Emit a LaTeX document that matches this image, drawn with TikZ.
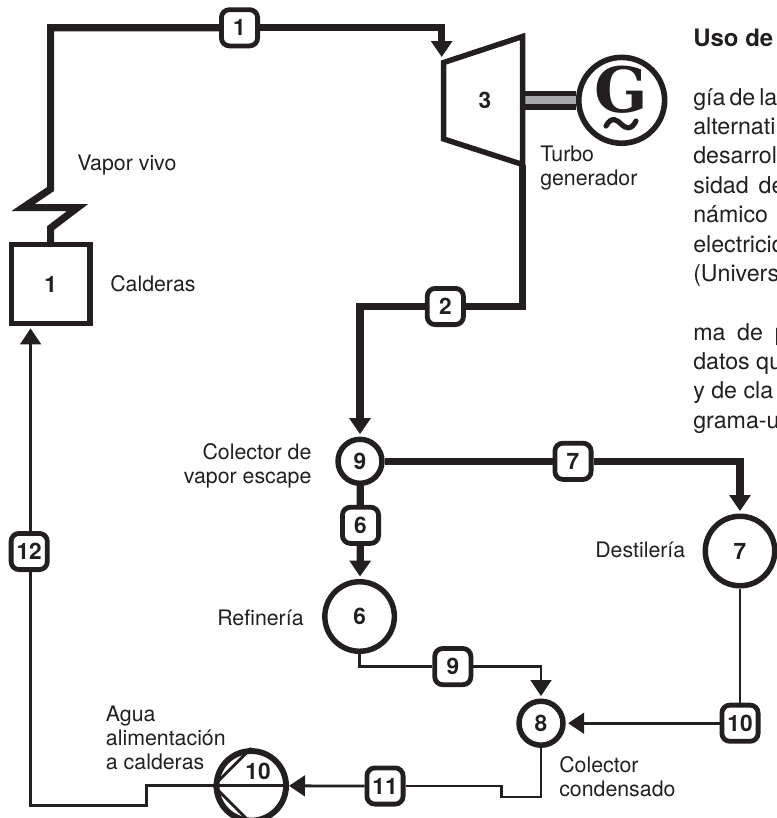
\documentclass[tikz,border=0pt]{standalone}
\usepackage{fontspec}
\setmainfont{TeX Gyre Heros}
\newfontfamily\genfont{DejaVu Serif}
\usetikzlibrary{arrows.meta,calc}
\definecolor{ink}{HTML}{231F20}
\definecolor{shaftgrey}{HTML}{A7A9AC}
\tikzset{
  steam/.style={draw=ink, line width=5.4pt, miter limit=12},
  feed/.style={draw=ink, line width=2.1pt},
  steamhead/.style={-{Triangle[length=12pt,width=15.5pt]}, shorten >=1.8pt},
  tag/.style={draw=ink, fill=white, text=ink, line width=3.6pt, rounded corners=6pt, minimum size=27.15pt, inner sep=0pt, font=\fontsize{17}{18}\selectfont\bfseries},
  unit/.style={draw=ink, fill=white, text=ink, circle, line width=4.1pt, inner sep=0pt, font=\fontsize{17}{18}\selectfont\bfseries},
  small unit/.style={unit, minimum size=33pt},
  big unit/.style={unit, minimum size=52.15pt},
  lbl/.style={text=ink, inner sep=0pt, align=left, font=\fontsize{16}{18}\selectfont},
  body/.style={text=ink, inner sep=0pt, anchor=base west, font=\fontsize{17.4}{22}\selectfont},
}
\begin{document}
\begin{tikzpicture}[x=0.75pt,y=-0.75pt]
\useasboundingbox (0,0) rectangle (776,818);
% equipment
\node[draw=ink, fill=white, text=ink, line width=4.1pt, minimum size=58.9pt, inner sep=0pt, font=\fontsize{17}{18}\selectfont\bfseries] (cald) at (50.6,284) {1};
\node[small unit] (n9) at (360,461.3) {9};
\node[big unit] (n6) at (359.6,616.5) {6};
\node[big unit] (n7) at (740,551) {7};
\node[small unit] (n8) at (541,723.2) {8};
\node[big unit, line width=4.4pt] (n10) at (251.3,785.8) {};
\node[unit, line width=4.2pt, minimum size=64.4pt, font=\genfont\fontsize{47}{47}\selectfont\bfseries, text height=33pt, text depth=15pt] (gen) at (621.7,100.3) {G};
% tags on the lines
\node[tag] (b1) at (239.5,27.8) {1};
\node[tag] (b2) at (445.3,306.5) {2};
\node[tag] (b6) at (360.5,525.3) {6};
\node[tag] (b7) at (573,461.3) {7};
\node[tag] (b9) at (452.8,666.6) {9};
\node[tag] (b10) at (740,723.2) {10};
\node[tag] (b11) at (385,786) {11};
\node[tag] (b12) at (29.2,551.5) {12};
% turbine
\coordinate (tl) at (443.7,62.5);
\coordinate (tr) at (522.6,36.5);
\coordinate (br) at (522.6,164.5);
\coordinate (bl) at (443.7,139);
\coordinate (tin) at (441.7,57);
\coordinate (sh) at (522.6,100.3);
\draw[draw=ink, line width=4.1pt, double=shaftgrey, double distance=6.2pt] (sh) -- (gen.west);
\draw[draw=ink, fill=white, line width=4.1pt, miter limit=12] (tl) -- (tr) -- (br) -- (bl) -- cycle;
\node[lbl, font=\fontsize{17}{18}\selectfont\bfseries] (n3) at (485,100) {3};
\draw[ink, line width=3.9pt, line cap=round] (606,126) .. controls (612,115) and (618,121) .. (621,124) .. controls (625,128) and (631,131) .. (636,121);
% steam lines
\coordinate (zt) at (50.6,189);
\coordinate (zl) at (23,207.6);
\coordinate (zr) at (77.5,207.6);
\coordinate (zb) at (50.6,228);
\draw[steam] (cald.north) -- (zb) -- (zr) -- (zl) -- (zt) |- (b1);
\draw[steam, steamhead, shorten >=0pt] (b1) -| (tin);
\draw[steam] (br) |- (b2);
\draw[steam, steamhead] (b2) -| (n9);
\draw[steam] (n9) -- (b7);
\draw[steam, steamhead] (b7) -| (n7);
\draw[steam] (n9) -- (b6);
\draw[steam, steamhead] (b6) -- (n6);
% condensate lines
\coordinate (ret) at (30.6,805.8);
\coordinate (pl) at (146.8,785.8);
\coordinate (pd) at (146.8,805.8);
\coordinate (cd) at (541,797);
\coordinate (cl) at (501.7,797);
\coordinate (cu) at (501.7,786);
\draw[feed] (n6) |- (b9);
\draw[feed, steamhead] (b9) -| (n8);
\draw[feed] (n7) -- (b10);
\draw[feed, steamhead] (b10) -- (n8);
\draw[feed] (n8) -- (cd) -- (cl) -- (cu) -- (b11);
\draw[feed, steamhead, shorten >=0pt] (b11) -- (n10);
\draw[feed] (n10.west) -- (n10.east);
\draw[feed] (n10.north) -- (n10.west) -- (n10.south);
\draw[feed] (n10.west) -- (pl) -- (pd) -- (ret) -- (ret |- b12.south);
\draw[feed, steamhead] (ret |- b12.north) -- (ret |- cald.south);
\node[text=ink, inner sep=0pt, font=\fontsize{17}{18}\selectfont\bfseries] (t10) at (258,771) {10};
% labels
\node[lbl, anchor=base west] (lvapor) at (77,170) {Vapor vivo};
\node[lbl, anchor=base west] (lcald) at (110,291.7) {Calderas};
\node[lbl, anchor=west] (lturbo) at (540,168) {Turbo\\generador};
\node[lbl, anchor=east, align=right] (lcolv) at (311.7,466) {Colector de\\vapor escape};
\node[lbl, anchor=base west] (lref) at (217,625) {Refinería};
\node[lbl, anchor=base west] (ldest) at (595,557.7) {Destilería};
\node[lbl, anchor=west] (lcolc) at (559,777) {Colector\\condensado};
\node[lbl, anchor=west] (lagua) at (105.7,738) {Agua\\alimentación\\a calderas};
% text beside the figure
\node[body, font=\fontsize{18}{22}\selectfont\bfseries] (r0) at (693,46.7) {Uso de};
\node[body] (r1) at (693,105) {\spaceskip=3pt gía de la};
\node[body] (r2) at (693,134.3) {alternati};
\node[body] (r3) at (693,163.6) {desarrol};
\node[body] (r4) at (693,193) {\spaceskip=7.5pt sidad de};
\node[body] (r5) at (693,222.3) {námico};
\node[body] (r6) at (693,252) {electricid};
\node[body] (r7) at (693,281.5) {(Univers};
\node[body] (r8) at (693,340) {\spaceskip=8.8pt ma de p};
\node[body] (r9) at (693,369.3) {datos qu};
\node[body] (r10) at (693,398.5) {y de cla};
\node[body] (r11) at (693,428) {grama-u};
\end{tikzpicture}
\end{document}
